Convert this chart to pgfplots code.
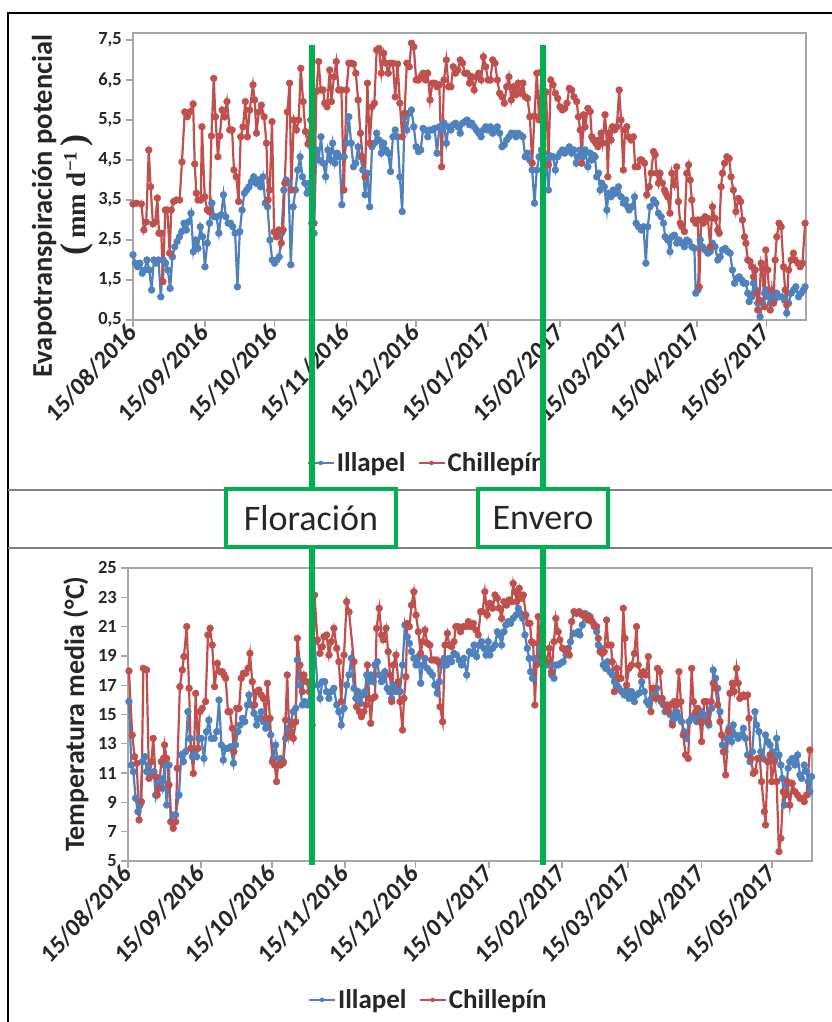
\documentclass[border=0pt]{standalone}
\usepackage{fontspec}
\setmainfont{Carlito}
\newfontfamily\serifbf{Liberation Serif}
\usepackage{pgfplots}
\pgfplotsset{compat=1.18}
\definecolor{ill}{HTML}{4F81BD}
\definecolor{chi}{HTML}{C0504D}
\definecolor{grn}{HTML}{00B050}
\definecolor{axgray}{HTML}{A6A6A6}
\definecolor{txt}{HTML}{262626}
\pgfplotsset{
 panel/.style={
  scale only axis, anchor=south west,
  xmin=0, xmax=290,
  xtick={0,31,61,92,122,153,184,212,243,273},
  xticklabels={15/08/2016,15/09/2016,15/10/2016,15/11/2016,15/12/2016,15/01/2017,15/02/2017,15/03/2017,15/04/2017,15/05/2017},
  tick pos=left, tick align=outside, major tick length=7pt,
  axis line style={axgray, line width=1.5pt},
  every tick/.style={axgray, line width=1.3pt},
  tick label style={font=\fontsize{18.5}{18.5}\selectfont\bfseries, color=txt},
  yticklabel style={inner sep=4pt},
  xticklabel style={font=\fontsize{23.5}{23.5}\selectfont\bfseries, yscale=1.1, rotate=45, anchor=east, inner sep=1pt},
  /pgf/number format/assume math mode=true,
  legend columns=2,
  legend style={draw=none, fill=none, anchor=center, font=\fontsize{27}{27}\selectfont\bfseries, text=txt,
    /tikz/every even column/.append style={column sep=10pt}},
  legend image code/.code={\draw[mark repeat=2, mark phase=2, #1, mark size=2pt] plot coordinates {(0pt,0pt) (13pt,0pt) (26pt,0pt)};},
 },
 ills/.style={color=ill, line width=2.2pt, mark=*, mark size=3.4pt, mark options={fill=ill, draw=ill, line width=0.5pt}},
 chis/.style={color=chi, line width=2.2pt, mark=*, mark size=3.4pt, mark options={fill=chi, draw=chi, line width=0.5pt}},
}
\begin{document}
\begin{tikzpicture}
\useasboundingbox (0pt,0pt) rectangle (832pt,1022pt);
\fill[white] (0pt,0pt) rectangle (832pt,1022pt);
% frames
\draw[black, line width=2.5pt] (8pt,0pt) -- (8pt,1009pt) -- (832pt,1009pt);
\draw[gray, line width=1.8pt] (8pt,532pt) -- (832pt,532pt);
\draw[gray, line width=1.8pt] (8pt,474pt) -- (832pt,474pt);

% ---------- top panel ----------
\begin{axis}[panel, at={(133pt,702pt)}, width=673pt, height=287pt,
  ymin=0.5, ymax=7.675, ytick={0.5,1.5,...,7.5},
  yticklabel style={/pgf/number format/.cd, fixed, fixed zerofill, precision=1, use comma},
  legend style={at={(0.437,-0.498)}}]
\addplot[ills] coordinates {
(0,2.13)(1,1.92)(2,1.83)(3,1.92)(4,1.67)(5,1.75)(6,2.0)(7,1.75)(8,1.25)(9,2.0)(10,1.92)(11,2.0)(12,1.08)(13,2.0)(14,1.92)(15,1.75)(16,1.29)(17,2.08)(18,2.33)(19,2.46)(20,2.58)(21,2.71)(22,2.92)(23,2.75)(24,2.96)(25,3.17)(26,2.21)(27,2.5)(28,2.29)(29,2.83)(30,2.58)(31,1.83)(32,2.42)(33,2.92)(34,3.42)(35,3.08)(36,3.08)(37,2.67)(38,3.13)(39,3.63)(40,3.08)(41,2.92)(42,2.92)(43,2.83)(44,2.67)(45,1.33)(46,2.71)(47,3.25)(48,3.67)(49,3.75)(50,3.83)(51,3.96)(52,4.08)(53,3.92)(54,4.0)(55,3.83)(56,4.08)(57,3.42)(58,3.33)(59,2.5)(60,2.0)(61,1.92)(62,2.0)(63,2.08)(64,2.67)(65,3.75)(66,4.0)(67,3.92)(68,1.88)(69,3.33)(70,3.75)(71,4.25)(72,4.58)(73,4.08)(74,3.92)(75,3.67)(76,3.92)(77,2.92)(78,2.67)(79,4.75)(80,4.5)(81,5.08)(82,4.42)(83,4.08)(84,4.75)(85,4.5)(86,4.92)(87,4.42)(88,4.67)(89,4.58)(90,3.38)(91,4.58)(92,4.92)(93,5.58)(94,4.92)(95,4.33)
(96,4.42)(97,4.83)(98,4.58)(99,4.25)(100,3.63)(101,4.17)(102,3.33)(103,4.83)(104,4.92)(105,5.17)(106,5.0)(107,4.67)(108,4.92)(109,4.75)(110,4.67)(111,4.21)(112,5.08)(113,5.25)(114,5.08)(115,4.08)(116,3.21)(117,5.58)(118,5.25)(119,5.67)(120,5.75)(121,5.33)(122,4.83)(123,4.71)(124,4.75)(125,5.29)(126,5.25)(127,5.08)(128,5.25)(129,5.25)(130,5.29)(131,4.67)(132,5.33)(133,5.25)(134,5.42)(135,4.92)(136,5.33)(137,5.25)(138,5.38)(139,5.42)(140,5.33)(141,5.17)(142,5.42)(143,5.46)(144,5.5)(145,5.38)(146,5.42)(147,5.33)(148,5.25)(149,5.17)(150,5.08)(151,5.25)(152,5.33)(153,5.25)(154,5.33)(155,5.17)
(156,5.25)(157,5.33)(158,5.17)(159,4.83)(160,4.88)(161,5.0)(162,5.08)(163,5.17)(164,5.17)(165,5.08)(166,5.17)(167,5.12)(168,5.08)(169,4.58)(170,4.67)(171,4.5)(172,4.25)(173,3.42)(174,4.25)(175,4.58)(176,4.75)(177,4.67)(178,4.5)(179,3.75)(180,4.6)(181,4.58)(182,4.25)(183,4.58)(184,4.67)(185,4.75)(186,4.67)(187,4.75)(188,4.83)(189,4.67)(190,4.75)(191,4.42)
(191.6,4.58)(192.7,4.75)(193.7,4.58)(194.8,4.75)(196,4.33)(197,4.67)(197.7,4.5)(198.4,4.62)(199.1,4.58)(199.8,4.08)(200.6,4.17)(201.3,3.75)(202,3.92)(203.1,3.83)(204.2,3.25)(204.9,3.67)(206,3.58)(207,3.75)(208,3.67)(209.2,3.83)(210.3,3.58)(211.3,3.42)(212.3,3.5)(213.2,3.33)(213.8,3.25)(214.9,3.33)(216.1,3.58)(216.8,2.92)(217.8,2.83)(219,2.75)(220,2.83)(221,1.92)(221.8,2.83)(222.8,3.33)(224.3,3.5)(225.3,3.42)(226.4,3.17)(227.6,3.08)(228.6,2.92)(229.3,2.58)(230.4,2.5)(231.4,2.21)(232.2,2.58)(233.3,2.62)(234.3,2.42)(235.3,2.5)(236.5,2.42)(237.6,2.33)(238.6,2.5)(239.6,2.46)(240.8,2.33)(241.9,2.29)(242.5,1.17)(243.4,1.25)(244.4,2.5)(245.4,2.33)(246.5,2.25)(247.7,2.17)(248.7,2.21)(249.7,2.42)(250.8,2.33)(252,2.0)(253,2.08)(254,2.25)(255.2,2.29)(256.3,2.21)(257.3,2.17)(258.3,1.75)(259.2,1.42)(260.2,1.54)(261.2,1.58)(262.3,1.5)(263,1.42)(264.1,1.42)(264.9,1.17)(265.5,0.96)(266.6,1.08)(267.4,1.42)(268.4,1.25)(269.2,0.92)(270.2,0.58)(271.2,0.92)(272.1,1.17)(273.1,1.25)(273.8,1.08)(274.6,0.92)(275.3,1.17)(276.4,1.0)(277.4,1.17)(278.4,1.08)(279.6,1.08)(280.7,1.0)(281.7,0.67)(282.5,0.92)(283.6,1.17)(284.6,1.25)(285.6,1.33)(286.8,1.08)(287.9,1.17)(288.9,1.25)(289.6,1.33)
};
\addlegendentry{Illapel}
\addplot[chis] coordinates {
(0,3.4)(1.4,3.42)(3.6,3.4)(4.7,2.75)(5.7,2.95)(6.8,4.75)(7.6,3.83)(8.6,2.9)(9.6,2.95)(10.5,3.55)(11.2,2.67)(12.2,2.67)(12.9,1.46)(13.9,3.25)(14.8,3.25)(15.8,2.17)(16.5,3.25)(17.5,3.46)(18.7,3.5)(20.1,3.5)(21.1,4.45)(22.3,5.7)(23.4,5.58)(24.4,5.7)(25.9,5.9)(26.6,4.4)(27.3,3.67)(28,3.5)(29.2,3.5)(29.7,5.33)(30.9,3.58)(32,3.25)(33,3.2)(33.8,5.1)(34.8,6.54)(35.5,5.58)(36.6,4.58)(37.4,5.1)(38.4,5.75)(39.5,5.58)(40.5,5.96)(41.7,5.25)(42.7,5.25)(43.5,4.25)(44.5,4.08)(45.5,3.46)(46.4,5.08)(47.4,5.33)(48.4,5.96)(49.3,5.08)(50.3,5.75)(51.7,6.38)(52.4,6.0)(53.2,5.17)(54.2,5.7)(55.3,5.87)(56.5,5.58)(57.5,4.92)(58.2,3.5)(58.9,3.75)(59.9,5.46)(60.8,2.7)(61.8,2.58)(62.8,2.75)(63.9,2.42)(64.7,2.75)(65.4,3.92)(66.5,5.7)(67.5,6.42)(68.2,3.75)(69.3,5.5)(70.4,5.25)(71.4,5.5)(72.3,6.79)(73.3,5.96)(74.3,5.21)(75.4,4.9)(76.6,5.5)(78,2.92)(79,6.21)(80,6.96)(80.9,6.25)(81.9,6.25)(82.6,5.92)(83.6,5.83)(84.8,6.75)(85.5,5.96)(86.6,6.58)(87.6,6.96)(88.6,6.25)(89.8,6.25)(90.9,3.75)(92,6.25)(93,6.92)(94,6.92)
(95,6.9)(96,6.67)(97,6.0)(98,5.17)(99,4.58)(100,4.08)(101,6.42)(102,4.92)(103,5.83)(104,5.92)(105,7.25)(106,7.29)(107,6.67)(108,7.17)(109,6.92)(110,6.67)(111,6.92)(112,6.92)(113,6.08)(114,6.9)(115,5.92)(116,5.08)(117,5.67)(118,6.92)(119,6.83)(120,7.42)(121,7.33)(122,6.5)(123,6.5)(124,6.58)(125,6.67)(126,6.5)(127,6.67)(128,6.0)(129,6.42)(130,6.42)(131,6.33)(132,6.38)(133,4.33)(134,6.5)(135,7.0)(136,6.33)(137,6.33)(138,6.83)(139,6.67)(140,6.75)(141,7.0)(142,6.92)(143,6.67)(144,6.67)(145,6.42)(146,6.58)(147,6.25)(148,6.58)(149,6.67)(150,6.5)(151,7.08)(152,6.83)(153,6.5)(154,6.5)(155,7.0)(156,6.92)(157,6.5)(158,6.17)(159,6.08)(160,5.92)(161,6.33)(162,6.58)(163,6.0)(164,6.33)(165,6.13)(166,6.42)(167,6.17)(168,6.42)(169,6.08)(170,6.04)(171,5.58)(172,4.42)(173,5.6)(174,6.67)(175,5.5)(176,6.7)(177,6.17)(178,6.2)(179,4.38)(180,6.5)(181,6.38)(182,6.17)(183,6.04)(184,5.83)(185,5.75)(186,5.79)(187,5.92)(188,6.29)(189,6.25)(190,6.08)
(191.2,5.96)(191.9,5.58)(192.7,5.25)(193.4,4.42)(194.1,5.63)(194.8,5.33)(196,5.79)(197,5.71)(197.7,5.08)(198.4,5.0)(199.4,4.92)(200.3,4.83)(200.8,5.0)(201.7,5.17)(202.3,4.92)(203.4,5.63)(204.2,4.92)(204.6,4.08)(205.2,5.17)(206,5.0)(206.6,5.33)(207.5,5.25)(208.5,5.33)(209.5,6.25)(210.3,5.5)(211.3,4.25)(212,5.25)(212.8,5.33)(213.5,5.08)(214.6,5.0)(215.6,5.08)(216.4,4.33)(217.5,4.33)(218.5,4.5)(219.2,4.5)(220.4,4.42)(221.4,3.63)(222.4,3.83)(223.3,4.17)(224.3,4.71)(225,4.63)(225.7,4.17)(226.4,3.92)(227.1,4.17)(228.1,3.92)(229,3.75)(229.6,3.67)(230.4,3.58)(231.4,3.17)(232.2,4.17)(233.3,3.88)(234.3,4.33)(235,3.46)(235.8,2.92)(236.5,2.83)(237.6,2.71)(238.6,4.17)(239.4,4.38)(240.1,4.0)(240.8,3.5)(241.5,3.0)(242.5,2.92)(243.4,3.0)(244,1.33)(244.8,3.0)(245.8,2.92)(246.5,3.08)(247.7,3.04)(248.7,2.33)(249.7,3.33)(250.8,3.04)(252,2.75)(252.6,2.67)(253.4,3.83)(254,4.17)(254.9,4.42)(255.9,4.58)(256.9,4.54)(257.7,4.08)(258.7,3.75)(259.8,3.21)(260.9,3.54)(261.8,3.46)(262.6,3.0)(263.5,2.58)(264.1,2.42)(264.9,2.0)(265.9,1.96)(266.6,1.83)(267.4,1.58)(268.1,1.75)(268.8,1.17)(269.2,0.75)(269.8,1.0)(270.7,1.92)(271.2,1.79)(272.1,0.83)(272.7,2.25)(273.5,1.75)(274.6,0.75)(275.3,1.25)(276,0.92)(276.7,2.0)(277.4,2.58)(278.4,2.92)(279.3,2.83)(280.3,1.83)(281,1.25)(281.7,0.88)(282.5,1.75)(283.6,2.0)(284.6,2.17)(285.3,2.0)(286.5,1.92)(287.5,1.83)(288.5,1.92)(289.6,2.92)
};
\addlegendentry{Chillepín}
\end{axis}

% ---------- bottom panel ----------
\begin{axis}[panel, at={(128pt,161pt)}, width=684pt, height=293pt,
  ymin=5, ymax=25, ytick={5,7,...,25},
  legend style={at={(0.439,-0.474)}}]
\addplot[ills] coordinates {
(0.4,15.88)(1.4,11.55)(2.3,11.1)(3.2,9.28)(4.2,8.37)(5.1,8.82)(6.1,11.78)(7.1,12.12)(7.9,11.1)(8.9,11.55)(9.9,10.87)(11,11.1)(11.7,9.5)(12.4,10.19)(13.6,10.64)(14.6,9.96)(15.5,11.55)(16.4,8.82)(17.4,11.55)(18.1,7.68)(19.2,8.14)(20.2,8.14)(21.6,9.5)(22.6,12.24)(23.5,11.78)(24.4,12.46)(25.4,15.19)(26.3,13.37)(27.3,12.12)(28.3,12.46)(29.1,12.12)(30.1,13.37)(31.1,13.37)(32.2,12.0)(33.3,13.83)(34.3,14.62)(35.3,13.37)(36.5,13.37)(37.6,13.83)(38.6,15.99)(39.6,12.92)(40.4,11.89)(41.4,12.69)(42.4,12.69)(43.5,12.8)(44.7,11.67)(45.6,12.92)(46.6,13.83)(47.5,14.28)(48.5,14.74)(49.5,14.51)(50.6,15.65)(51.3,16.33)(52.3,15.65)(53.4,15.08)(54.5,14.28)(55.5,14.74)(56.5,15.19)(57.4,14.51)(58.4,14.06)(59.3,14.51)(60.5,13.6)(61.6,12.0)(62.6,12.92)(63.6,11.55)(64.7,12.0)(65.8,11.67)(66.8,13.37)(67.8,14.06)(69,14.51)(70.1,15.19)(71.1,15.42)(71.8,18.72)(72.9,17.01)(73.9,15.65)(74.9,15.88)(76,15.65)(77.4,16.56)(79.1,19.97)(80.3,17.01)(81.4,16.1)(82.4,17.24)(83.4,17.24)(84.2,16.56)(85.2,16.1)(86.2,16.56)(87.3,16.79)(88.5,15.65)(89.4,15.19)(90.4,14.28)(91.6,15.42)(92.7,17.01)(93.7,17.7)(94.7,18.83)
(95.8,16.79)(96.6,16.1)(97.6,16.56)(98.6,15.76)(99.5,16.33)(100.5,16.56)(101.2,17.7)(101.9,17.24)(102.9,17.7)(104,17.24)(104.7,18.38)(105.7,18.6)(106.5,17.7)(107.5,17.24)(108.2,17.47)(108.9,17.92)(109.9,16.79)(110.8,16.56)(111.8,16.1)(112.5,17.01)(113.6,16.56)(114.6,17.24)(115.3,16.56)(116.4,18.38)(117.4,21.11)(118.4,20.31)(119.3,19.86)(120.2,19.29)(121.2,18.83)(122.1,18.38)(123.1,18.95)(124.1,17.13)(124.9,18.38)(125.9,18.83)(126.9,18.15)(128,17.92)(129.1,17.7)(130.1,17.01)(131.1,16.45)(132,17.24)(133,18.38)(134,18.83)(135.1,18.38)(136.2,18.83)(137.2,18.6)(138.2,19.17)(139.3,19.06)(140.4,18.72)(141.4,18.38)(142.4,18.83)(143.6,17.7)(144.7,19.29)(145.7,19.17)(146.7,19.74)(147.8,18.95)(148.9,19.74)(149.9,19.97)(150.9,19.52)(151.8,19.06)(152.7,19.97)(153.4,19.06)(154.6,19.52)(155.6,19.74)(156.6,20.65)(157.4,20.43)(158.4,19.74)(159.4,20.65)(160.2,21.11)(161.2,21.34)(162.2,21.22)(163.3,21.56)(164.5,21.79)(165.5,22.25)(166.4,21.9)(167.3,21.56)(168.3,20.43)(169.3,19.52)(170.1,18.83)(170.7,17.92)(171.5,17.47)(172.5,18.83)(173.5,18.6)(174.4,19.52)(175.3,18.6)(177.5,18.38)(178.6,18.38)(179.6,17.7)(180.6,17.47)(181.4,18.38)(182.4,18.38)(183.4,18.49)(184.5,18.6)(185.7,19.06)(186.7,19.52)(187.6,19.97)(188.8,20.54)(189.9,20.54)(190.9,20.65)
(191.6,20.43)(192.6,21.11)(193.7,21.9)(194.9,21.79)(195.9,21.56)(196.8,21.34)(197.7,21.0)(198.7,20.65)(199.4,19.74)(200.5,19.52)(201.5,18.38)(202.5,18.15)(203.3,18.6)(204.3,17.92)(205.3,17.7)(206.2,17.24)(207.2,17.01)(208.2,16.79)(209.3,16.56)(210.4,16.33)(211.4,16.67)(212.4,16.1)(213.5,16.56)(214.7,15.88)(215.6,16.33)(216.6,16.45)(217.8,17.24)(218.9,16.56)(219.9,15.88)(220.9,15.65)(222,16.1)(223.1,16.56)(224.1,16.79)(225.1,16.1)(226,15.88)(227,15.65)(227.7,15.19)(228.8,15.65)(229.8,15.0)(230.8,14.51)(231.9,14.74)(232.6,15.19)(233.6,14.85)(234.7,14.51)(235.8,13.83)(236.8,13.37)(237.8,14.51)(239,14.74)(240.1,14.97)(241.1,14.51)(242.1,14.74)(243.2,15.19)(244.3,14.97)(245.3,14.51)(246.3,14.28)(247.4,15.42)(248.1,18.04)(249.1,17.47)(250,16.79)(251,15.19)(252,12.92)(253.1,12.46)(253.8,13.37)(254.8,14.06)(255.9,13.15)(256.6,14.28)(257.6,13.6)(258.7,13.37)(259.9,13.6)(260.9,14.06)(261.8,13.37)(262.7,12.24)(263.7,11.78)(264.7,12.46)(265.8,15.19)(266.5,14.28)(267.5,13.83)(268.3,12.46)(269.3,12.0)(270.3,13.6)(271.2,13.15)(272.2,12.92)(273.2,12.46)(274.3,12.0)(275,13.37)(276,12.24)(276.8,11.55)(277.4,10.64)(278.2,8.82)(279.2,10.19)(279.9,11.33)(280.6,11.78)(281.6,12.0)(282.8,11.55)(283.9,12.24)(284.9,10.87)(285.6,10.64)(286.7,11.55)(287.7,11.1)(288.4,10.42)(289.1,9.73)(289.8,10.76)
};
\addlegendentry{Illapel}
\addplot[chis] coordinates {
(0.4,17.97)(1.8,13.6)(2.8,12.12)(3.7,11.67)(4.7,7.8)(5.7,9.05)(6.5,18.15)(7.9,18.04)(8.9,10.64)(9.9,11.78)(10.7,13.37)(11.7,10.76)(12.4,9.5)(13.1,9.96)(14.1,11.78)(15,12.0)(15.5,12.92)(16.4,12.0)(17.4,10.19)(18.4,7.68)(19.2,7.23)(20.2,7.68)(20.9,11.33)(22,16.9)(23,18.04)(23.7,18.95)(24.9,21.0)(25.9,16.79)(26.6,12.69)(27.7,10.98)(28.7,16.44)(29.7,12.69)(30.5,15.19)(31.5,15.42)(32.9,15.88)(33.9,20.43)(34.8,20.88)(35.7,19.74)(36.7,16.9)(37.9,18.49)(39,17.92)(40,17.92)(40.7,17.7)(41.4,17.47)(42.4,15.19)(43.2,15.19)(44.2,14.06)(44.9,12.46)(46.1,15.42)(47.1,15.42)(48,17.47)(48.9,17.81)(49.9,17.81)(50.9,18.15)(51.7,19.17)(52.7,17.24)(53.7,15.65)(54.5,16.56)(55.5,16.67)(56.5,16.33)(57.4,16.1)(58.4,14.74)(59.1,17.13)(60.2,14.74)(61.2,11.78)(62.2,11.55)(63,10.42)(63.6,11.55)(64.7,11.55)(65.8,11.78)(66.8,14.62)(67.5,17.7)(68.4,13.6)(69.2,14.28)(70.1,13.37)(71.1,14.5)(71.8,20.2)(72.9,18.38)(73.9,16.56)(74.6,17.7)(75.7,17.24)(76.9,16.56)(78.1,14.28)(79.1,23.16)(80.3,20.09)(81.4,19.17)(82.4,19.63)(83.1,20.31)(84.2,20.43)(85.2,19.06)(86.2,19.97)(87.3,20.88)(88.5,19.52)(89.4,18.61)(90.4,15.88)(91.6,19.06)(92.7,22.7)(93.7,22.0)
(95.8,18.6)(96.9,15.53)(98.1,15.19)(99,14.85)(100,15.19)(100.9,15.65)(101.5,18.38)(102.3,16.1)(102.9,14.4)(103.7,16.1)(104.7,16.22)(105.4,20.88)(106.5,22.25)(107.5,20.43)(108.2,20.09)(109.4,20.88)(110.3,19.29)(111.1,17.7)(111.8,15.88)(112.5,18.38)(113.6,19.06)(114.6,17.24)(115.3,15.88)(116.4,13.94)(117,16.1)(117.8,17.58)(118.4,21.22)(119.3,21.0)(120.2,22.47)(121.2,23.38)(122.1,21.79)(123.1,20.65)(124.1,19.17)(124.9,19.97)(125.9,20.77)(126.9,19.86)(128,19.74)(128.7,18.72)(129.7,18.72)(130.8,18.72)(131.5,18.6)(132.3,15.53)(133.4,14.51)(134.4,19.74)(135.4,20.54)(136.2,19.74)(137.2,19.63)(138.2,19.97)(139,21.0)(140,21.0)(141,20.65)(142.1,21.0)(143.3,21.0)(144.3,21.34)(145.3,21.0)(146.4,21.22)(147.5,20.77)(148.5,20.43)(149.5,22.02)(150.3,22.02)(151.3,23.38)(152.3,21.79)(153.4,22.59)(154.6,22.25)(155.6,23.16)(156.6,22.93)(157.4,22.25)(158.4,21.56)(159.4,22.7)(160.5,22.47)(161.6,22.82)(162.6,22.7)(163.3,23.95)(164,23.38)(164.8,22.7)(165.9,23.61)(166.9,22.93)(167.6,23.16)(168.7,21.79)(169.7,21.22)(170.4,21.22)(171.1,19.97)(171.8,19.86)(172.5,15.65)(173.2,18.38)(173.9,21.68)(174.9,19.0)(176,19.52)(177.5,18.6)(178.6,19.52)(179.6,17.92)(180.6,19.97)(181.4,21.56)(182.4,20.65)(183.1,20.09)(184.2,19.52)(185.2,19.4)(186.2,19.47)(187.1,19.06)(188.1,21.34)(189.1,22.02)(190.2,21.9)(191.3,22.02)
(192.6,21.79)(193.7,21.79)(194.9,21.45)(195.9,21.68)(196.8,21.34)(197.7,21.11)(198.7,21.0)(199.4,20.2)(200.1,19.29)(201.1,19.17)(201.9,19.29)(202.9,21.45)(203.6,19.74)(204.8,19.74)(205.3,18.6)(206.2,16.56)(207.2,18.15)(208.2,17.47)(209,17.47)(210,22.25)(210.7,20.2)(211.4,17.01)(212.4,18.15)(213.5,18.38)(214.7,19.17)(215.6,21.0)(216.3,18.38)(217.5,17.7)(218.5,17.92)(219.5,17.7)(220.6,18.95)(221.7,15.19)(222.7,16.79)(223.7,16.1)(224.5,18.15)(225.5,17.92)(226.5,16.1)(227.7,15.65)(228.8,15.19)(229.8,15.65)(230.8,14.28)(231.6,15.88)(232.6,15.65)(233.6,17.92)(234.4,15.88)(235.4,13.6)(236.4,12.24)(237.5,12.0)(239,18.15)(239.7,15.88)(240.7,15.19)(241.5,15.42)(242.5,14.51)(243.2,13.15)(244.3,15.88)(245.3,15.88)(246,14.51)(247.2,15.88)(248.1,17.13)(249.1,16.79)(250,15.65)(251,14.51)(251.7,13.6)(252.4,12.46)(253.4,10.87)(254.5,13.83)(255.2,16.45)(256.2,17.13)(257,16.56)(258,18.15)(258.7,17.13)(259.4,16.1)(260.9,16.33)(261.6,16.22)(262.7,16.33)(263.3,14.74)(264.1,12.0)(265.1,10.98)(265.8,11.1)(266.9,12.0)(267.9,12.0)(268.6,10.42)(269.8,8.37)(270.3,7.46)(271.2,11.78)(272.2,12.24)(272.9,10.42)(274,11.78)(275,10.42)(276,5.64)(276.8,6.55)(277.8,9.73)(278.8,9.5)(279.6,10.42)(280.6,8.82)(281.6,10.3)(282.8,9.73)(283.9,9.5)(284.9,9.28)(285.6,9.28)(286.7,9.05)(287.7,9.5)(289.1,12.58)
};
\addlegendentry{Chillepín}
\end{axis}

% axis titles
\node[rotate=90, font=\fontsize{28.5}{28.5}\selectfont\bfseries, text=txt] at (44pt,816pt) {Evapotranspiración potencial};
\node[rotate=90, text=txt, inner sep=0pt] at (77pt,827pt) {\serifbf\bfseries\fontsize{27}{27}\selectfont{\fontsize{36}{36}\selectfont(}\,mm d\textsuperscript{−1}\,{\fontsize{36}{36}\selectfont)}};
\node[rotate=90, font=\fontsize{28}{28}\selectfont\bfseries, text=txt] at (76pt,308pt) {Temperatura media (°C)};

% phenology lines and boxes
\draw[grn, line width=5.5pt] (312pt,977pt) -- (312pt,157pt);
\draw[grn, line width=5.5pt] (543pt,977pt) -- (543pt,157pt);
\node[draw=grn, line width=4.5pt, fill=white, minimum width=170pt, minimum height=58pt, inner sep=0pt, font=\fontsize{36}{36}\selectfont, text=txt] at (311pt,504pt) {Floración};
\node[draw=grn, line width=4.5pt, fill=white, minimum width=130pt, minimum height=58pt, inner sep=0pt, font=\fontsize{36}{36}\selectfont, text=txt] at (543pt,504pt) {Envero};
\end{tikzpicture}
\end{document}
